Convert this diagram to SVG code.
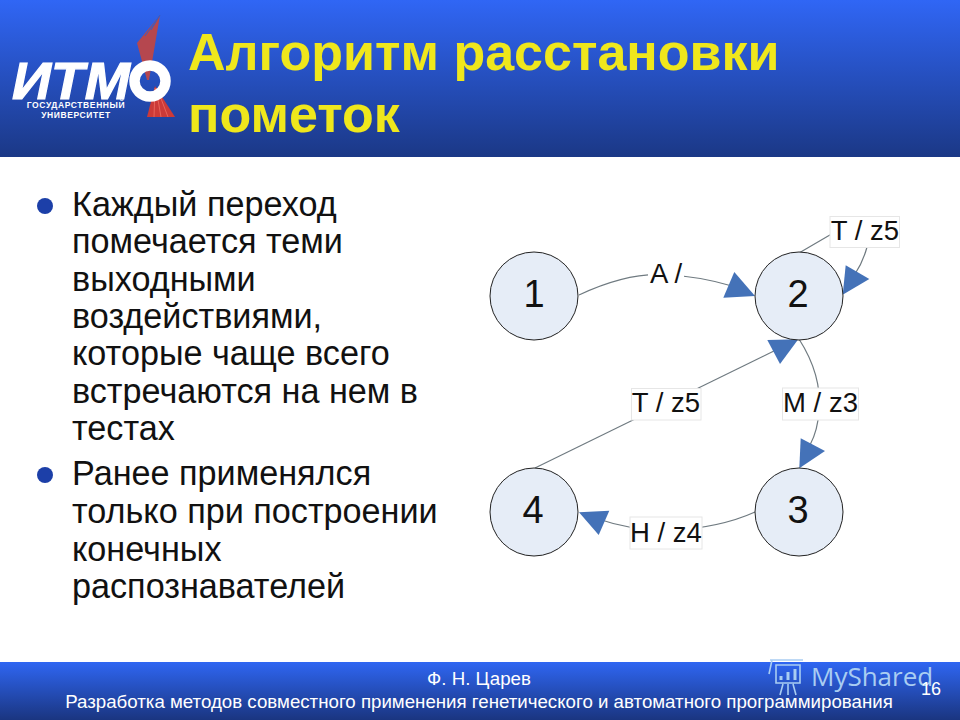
<svg xmlns="http://www.w3.org/2000/svg" width="960" height="720" viewBox="0 0 960 720">
<defs>
<linearGradient id="hdr" x1="0" y1="0" x2="0" y2="1"><stop offset="0" stop-color="#3066f5"/><stop offset="1" stop-color="#1b3886"/></linearGradient>
<linearGradient id="ftr" x1="0" y1="0" x2="0" y2="1"><stop offset="0" stop-color="#2f66f2"/><stop offset="1" stop-color="#1a3580"/></linearGradient>
</defs>
<style>
text{font-family:"Liberation Sans",Arial,sans-serif}
.title{font-size:52px;font-weight:bold;fill:#efe71c}
.body{font-size:34.2px;fill:#111}
.foot{font-size:18.7px;fill:#fff;text-anchor:middle}
.n{fill:#e6edf7;stroke:#222;stroke-width:1}
.num{font-size:38px;fill:#111;text-anchor:middle}
.lbl{font-size:27.5px;fill:#111;text-anchor:middle}
.box{fill:#fff;stroke:#e6e6e6;stroke-width:1}
.edge{fill:none;stroke:#6f7a80;stroke-width:1.2}
.head{fill:#4472b8}
.logo{fill:#fff}
.red{fill:#b5474f}
.red2{fill:#cc3a38}
</style>
<rect width="960" height="720" fill="#fff"/>
<rect id="header" width="960" height="157" fill="url(#hdr)"/>
<rect id="footer" y="662" width="960" height="58" fill="url(#ftr)"/>
<g id="logo">
<polygon class="red" points="160,15 137,43 147,80 149,80"/>
<path d="M160,15 L145,36 M160,15 L151,30" stroke="#3a5cc0" stroke-width="1" fill="none"/>
<polygon class="red2" points="147,117 155,86 175,117"/>
<path d="M155,88 L154,117 M156,88 L161,117 M157,88 L168,117" stroke="#e8635a" stroke-width="1" fill="none"/>
<circle cx="150" cy="81" r="15.5" fill="none" stroke="#fff" stroke-width="10.5"/>
<text x="12" y="99" font-size="52" font-weight="bold" font-style="italic" class="logo" stroke="#fff" stroke-width="1.2" textLength="118" lengthAdjust="spacingAndGlyphs">ИТМ</text>
<text x="76" y="108" font-size="8.5" font-weight="bold" class="logo" text-anchor="middle" letter-spacing=".6">ГОСУДАРСТВЕННЫЙ</text>
<text x="76" y="118" font-size="8.5" font-weight="bold" class="logo" text-anchor="middle" letter-spacing=".6">УНИВЕРСИТЕТ</text>
</g>
<text class="title" x="188" y="70">Алгоритм расстановки</text>
<text class="title" x="188" y="132">пометок</text>
<g id="bullets">
<circle cx="45" cy="206" r="8" fill="#1c3fa8"/>
<circle cx="45" cy="475" r="8" fill="#1c3fa8"/>
<text class="body" x="72" y="216">Каждый переход</text>
<text class="body" x="72" y="253">помечается теми</text>
<text class="body" x="72" y="291">выходными</text>
<text class="body" x="72" y="328">воздействиями,</text>
<text class="body" x="72" y="365">которые чаще всего</text>
<text class="body" x="72" y="403">встречаются на нем в</text>
<text class="body" x="72" y="440">тестах</text>
<text class="body" x="72" y="485">Ранее применялся</text>
<text class="body" x="72" y="523">только при построении</text>
<text class="body" x="72" y="561">конечных</text>
<text class="body" x="72" y="598">распознавателей</text>
</g>
<g id="connectors">
<path class="edge" d="M579,295 Q628,272 666,275 Q698,276 732,286"/>
<path class="edge" d="M799,253 L835,232 M867,247 Q863,262 855,274"/>
<path class="edge" d="M535,468 L782,347"/>
<path class="edge" d="M799,339 Q822,375 819,410 Q818,430 810,445"/>
<path class="edge" d="M755,512 Q720,528 666,531 Q630,530 595,518"/>
<polygon class="head" points="755,296 734.3,272 723.3,297.7"/>
<polygon class="head" points="869.3,279 845.7,265.3 842.7,294.7"/>
<polygon class="head" points="798.3,339.3 767.3,340 780,364"/>
<polygon class="head" points="799.3,468.3 800.7,438.3 825,451"/>
<polygon class="head" points="579,512.3 609.3,510.7 598.7,535"/>
</g>
<g id="label-a"><rect x="648" y="260" width="36" height="32" fill="#fff"/><text class="lbl" x="666" y="283">A /</text></g>
<g id="label-t2"><rect class="box" x="830" y="216.5" width="69.5" height="31"/><text class="lbl" x="865" y="240">T / z5</text></g>
<g id="label-t4"><rect class="box" x="631.5" y="388.5" width="69.5" height="31.5"/><text class="lbl" x="666" y="412">T / z5</text></g>
<g id="label-m"><rect class="box" x="782.5" y="388" width="76" height="32"/><text class="lbl" x="820.5" y="412">M / z3</text></g>
<g id="label-h"><rect class="box" x="630" y="517" width="72" height="32"/><text class="lbl" x="666" y="542">H / z4</text></g>
<g id="node1"><circle class="n" cx="534" cy="296" r="44"/><text class="num" x="534" y="307">1</text></g>
<g id="node2"><circle class="n" cx="799" cy="296" r="44"/><text class="num" x="798" y="307">2</text></g>
<g id="node3"><circle class="n" cx="799" cy="512" r="44"/><text class="num" x="798" y="523">3</text></g>
<g id="node4"><circle class="n" cx="534" cy="512" r="44"/><text class="num" x="533" y="523">4</text></g>
<text class="foot" x="479" y="685">Ф. Н. Царев</text>
<text class="foot" x="479" y="708">Разработка методов совместного применения генетического и автоматного программирования</text>
<g id="watermark" fill="none" stroke="#a9cdf2" stroke-width="1.6">
<path d="M770,660 H803 M772,660 L769,674 M776,665 H800 V683 H776 Z M783,684 L780,695 M793,684 L796,695 M788,684 V695"/>
<path d="M781,680 V676 M788,680 V672 M795,680 V669" stroke-width="3"/>
</g>
<text x="811" y="686" font-size="26" fill="#a9cdf2" style="font-family:'Open Sans','Liberation Sans',sans-serif">MyShared</text>
<text x="931" y="695" font-size="18" fill="#fff" text-anchor="middle">16</text>
</svg>
